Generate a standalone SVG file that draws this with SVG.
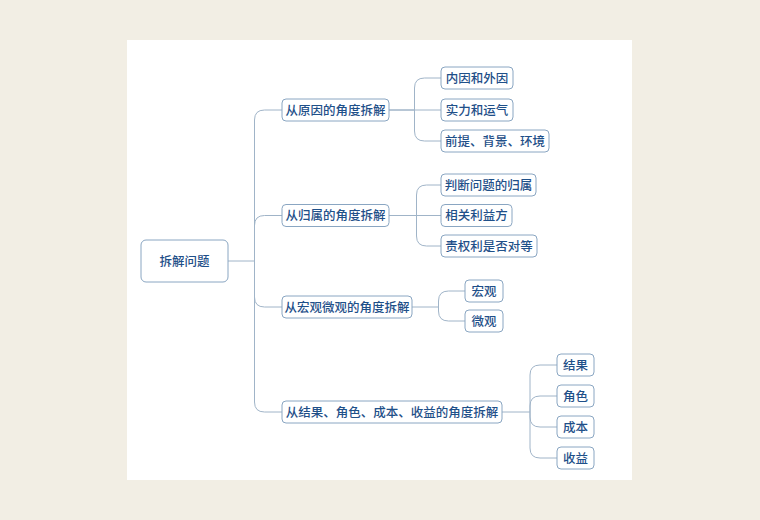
<svg xmlns="http://www.w3.org/2000/svg" width="760" height="520" viewBox="0 0 760 520">
<style>
.bg{fill:#f2eee4}
.card{fill:#ffffff}
.box{fill:#ffffff;stroke:#8aa6c2;stroke-width:1}
.t{font-family:"Noto Sans CJK SC","Noto Sans",sans-serif;font-size:12.5px;font-weight:500;fill:#1f5089;text-anchor:middle}
.c{fill:none;stroke:#a0b4c8;stroke-width:1}
</style>
<rect class="bg" x="0" y="0" width="760" height="520"/>
<rect class="card" x="127" y="40" width="505" height="440"/>
<g id="connectors">
<path class="c" d="M228,261 H254.5"/>
<path class="c" d="M254.5,261 V120 Q254.5,110 264.5,110 H282"/>
<path class="c" d="M254.5,261 V225.5 Q254.5,215.5 264.5,215.5 H282"/>
<path class="c" d="M254.5,261 V297 Q254.5,307 264.5,307 H282"/>
<path class="c" d="M254.5,261 V402 Q254.5,412 264.5,412 H282"/>
<path class="c" d="M389,110 H414.5 V88 Q414.5,78 424.5,78 H441"/>
<path class="c" d="M389,110 H441"/>
<path class="c" d="M414.5,110 V131 Q414.5,141 424.5,141 H441"/>
<path class="c" d="M389,215.5 H416.5 V195 Q416.5,185 426.5,185 H441"/>
<path class="c" d="M389,215.5 H441"/>
<path class="c" d="M416.5,215.5 V236 Q416.5,246 426.5,246 H441"/>
<path class="c" d="M412,307 H438.5 V301 Q438.5,291 448.5,291 H465"/>
<path class="c" d="M438.5,307 V311 Q438.5,321 448.5,321 H465"/>
<path class="c" d="M502,412 H530 V375 Q530,365 540,365 H557"/>
<path class="c" d="M530,412 V406 Q530,396 540,396 H557"/>
<path class="c" d="M530,412 V417 Q530,427 540,427 H557"/>
<path class="c" d="M530,412 V448 Q530,458 540,458 H557"/>
</g>
<g id="root"><rect class="box" x="141" y="240" width="87" height="42" rx="5"/><text class="t" x="184.5" y="265.5">拆解问题</text></g>
<g id="b1"><rect class="box" x="282" y="99" width="107" height="22" rx="4"/><text class="t" x="335.5" y="114.5">从原因的角度拆解</text></g>
<g id="b2"><rect class="box" x="282" y="204.5" width="107" height="22" rx="4"/><text class="t" x="335.5" y="220">从归属的角度拆解</text></g>
<g id="b3"><rect class="box" x="282" y="296" width="130" height="22" rx="4"/><text class="t" x="347" y="311.5">从宏观微观的角度拆解</text></g>
<g id="b4"><rect class="box" x="282" y="401" width="220" height="22" rx="4"/><text class="t" x="392" y="416.5">从结果、角色、成本、收益的角度拆解</text></g>
<g id="b1c1"><rect class="box" x="441" y="67" width="72" height="22" rx="4"/><text class="t" x="477" y="82.5">内因和外因</text></g>
<g id="b1c2"><rect class="box" x="441" y="99" width="72" height="22" rx="4"/><text class="t" x="477" y="114.5">实力和运气</text></g>
<g id="b1c3"><rect class="box" x="441" y="130" width="108" height="22" rx="4"/><text class="t" x="495" y="145.5">前提、背景、环境</text></g>
<g id="b2c1"><rect class="box" x="441" y="174" width="95" height="22" rx="4"/><text class="t" x="488.5" y="189.5">判断问题的归属</text></g>
<g id="b2c2"><rect class="box" x="441" y="204.5" width="71" height="22" rx="4"/><text class="t" x="476.5" y="220">相关利益方</text></g>
<g id="b2c3"><rect class="box" x="441" y="235" width="96" height="22" rx="4"/><text class="t" x="489" y="250.5">责权利是否对等</text></g>
<g id="b3c1"><rect class="box" x="465" y="280" width="38" height="22" rx="4"/><text class="t" x="484" y="295.5">宏观</text></g>
<g id="b3c2"><rect class="box" x="465" y="310" width="38" height="22" rx="4"/><text class="t" x="484" y="325.5">微观</text></g>
<g id="b4c1"><rect class="box" x="557" y="354" width="37" height="22" rx="4"/><text class="t" x="575.5" y="369.5">结果</text></g>
<g id="b4c2"><rect class="box" x="557" y="385" width="37" height="22" rx="4"/><text class="t" x="575.5" y="400.5">角色</text></g>
<g id="b4c3"><rect class="box" x="557" y="416" width="37" height="22" rx="4"/><text class="t" x="575.5" y="431.5">成本</text></g>
<g id="b4c4"><rect class="box" x="557" y="447" width="37" height="22" rx="4"/><text class="t" x="575.5" y="462.5">收益</text></g>
</svg>
